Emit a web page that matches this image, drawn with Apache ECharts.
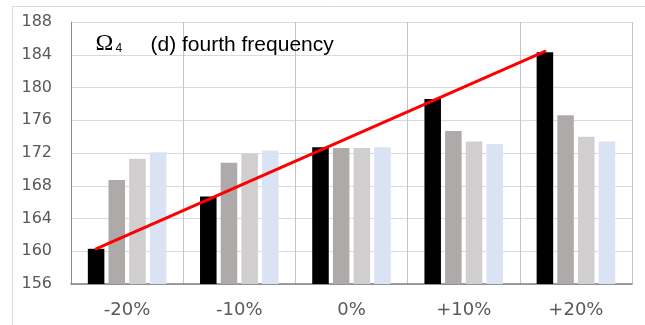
<!DOCTYPE html>
<html>
<head>
<meta charset="utf-8">
<script src="https://cdn.jsdelivr.net/npm/echarts@6/dist/echarts.min.js"></script>
<style>
html,body{margin:0;padding:0;background:#fff;}
#chart{width:645px;height:325px;}
</style>
</head>
<body>
<div id="chart"></div>
<script>
var categories = ['-20%', '-10%', '0%', '+10%', '+20%'];
var seriesBlack = [160.3, 166.7, 172.7, 178.6, 184.3];
var seriesGrey = [168.7, 170.8, 172.6, 174.7, 176.6];
var seriesLightGrey = [171.3, 171.9, 172.6, 173.4, 174.0];
var seriesBlue = [172.1, 172.3, 172.7, 173.1, 173.4];
var trendLine = [160.3, 184.4]; // red line from first to last black bar
var yTicks = [156, 160, 164, 168, 172, 176, 180, 184, 188];

var catGap = 0.30, barGapFrac = 0.25, nBars = 4;
var groupFrac = 1 - catGap;
var barFrac = groupFrac / (nBars + (nBars - 1) * barGapFrac);
var blackOffset = -groupFrac / 2 + barFrac / 2;

var chart = echarts.init(document.getElementById('chart'), null, {renderer: 'canvas'});
function bar(name, data, color) {
  return {
    name: name, type: 'bar', data: data, xAxisIndex: 0, yAxisIndex: 0,
    barGap: (barGapFrac * 100) + '%', barCategoryGap: (catGap * 100) + '%',
    itemStyle: {color: color}, silent: true, animation: false
  };
}
var option = {
  animation: false,
  backgroundColor: '#ffffff',
  grid: {left: 71, right: 13, top: 22, bottom: 41, containLabel: false},
  xAxis: [{
    type: 'category', data: categories, boundaryGap: true,
    axisLine: {show: true, onZero: false, lineStyle: {color: '#7f7f7f', width: 1.5}},
    axisTick: {show: false},
    axisLabel: {color: '#595959', fontFamily: 'DejaVu Sans', fontSize: 18, margin: 17},
    splitLine: {show: true, lineStyle: {color: '#c4c4c4', width: 1}}
  }, {
    type: 'value', min: -0.5, max: categories.length - 0.5, show: false,
    axisLine: {show: false, onZero: false}, splitLine: {show: false}
  }],
  yAxis: [{
    type: 'value', min: yTicks[0], max: yTicks[yTicks.length - 1], interval: yTicks[1] - yTicks[0],
    axisLine: {show: true, onZero: false, lineStyle: {color: '#8c8c8c', width: 1}},
    axisTick: {show: false},
    axisLabel: {color: '#595959', fontFamily: 'DejaVu Sans', fontSize: 16, margin: 19},
    splitLine: {show: true, lineStyle: {color: '#dadada', width: 1}}
  }],
  series: [
    bar('black', seriesBlack, '#000000'),
    bar('grey', seriesGrey, '#aeaaaa'),
    bar('lightgrey', seriesLightGrey, '#d0cece'),
    bar('blue', seriesBlue, '#dae3f3'),
    {
      name: 'trend', type: 'line', xAxisIndex: 1, yAxisIndex: 0,
      data: [[0 + blackOffset, trendLine[0]], [categories.length - 1 + blackOffset, trendLine[1]]],
      symbol: 'none', lineStyle: {color: '#ff0000', width: 3, cap: 'round'},
      silent: true, z: 5
    }
  ],
  graphic: [
    {type: 'rect', silent: true, z: -1,
     shape: {x: 12.5, y: 6.5, width: 700, height: 400},
     style: {fill: 'none', stroke: '#d9d9d9', lineWidth: 1}},
    {type: 'text', silent: true, z: 10, x: 95.5, y: 44,
     style: {text: 'Ω', font: '24px "Liberation Serif"', fill: '#000', textVerticalAlign: 'middle', verticalAlign: 'middle'}},
    {type: 'text', silent: true, z: 10, x: 115.5, y: 48.5,
     style: {text: '4', font: '12px "Liberation Sans"', fill: '#000', textVerticalAlign: 'middle', verticalAlign: 'middle'}},
    {type: 'text', silent: true, z: 10, x: 150.5, y: 45,
     style: {text: '(d) fourth frequency', font: '21px "Liberation Sans"', fill: '#000', textVerticalAlign: 'middle', verticalAlign: 'middle'}}
  ]
};
chart.setOption(option);
</script>
</body>
</html>
